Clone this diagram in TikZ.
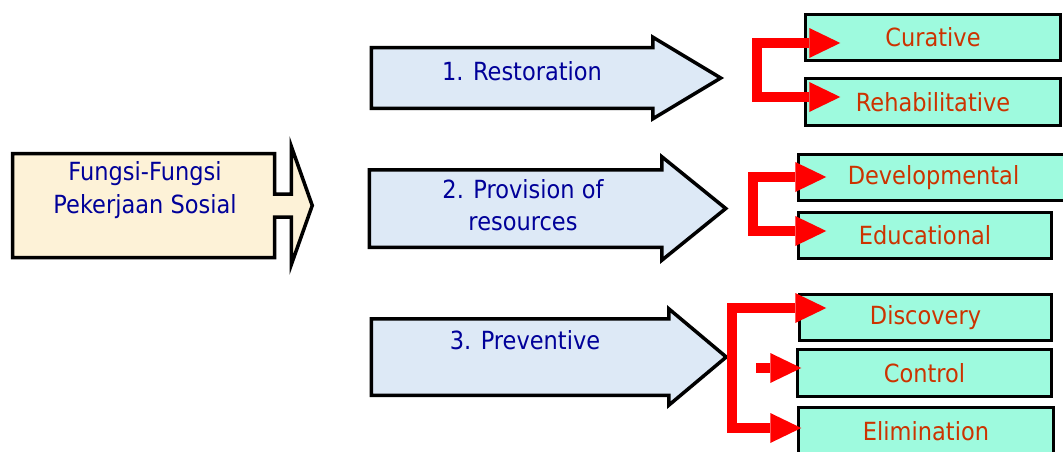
\documentclass[tikz,border=0pt]{standalone}
\usepackage{fontspec}
\setmainfont{DejaVu Sans}[FakeStretch=0.9]
\usepackage{xcolor}
\usetikzlibrary{shapes.arrows, arrows.meta, positioning}
\definecolor{cream}{RGB}{253,242,215}
\definecolor{iceblue}{RGB}{221,233,246}
\definecolor{mint}{RGB}{158,250,222}
\definecolor{navy}{RGB}{0,0,153}
\definecolor{rust}{RGB}{204,51,0}

\begin{document}
\begin{tikzpicture}[x=1pt, y=-1pt, font=\fontsize{25}{32.5}\selectfont,
    >={Triangle[length=31pt, width=30pt, line width=0pt]},
    mainbox/.style={arrow box, draw, line width=3.5pt, fill=cream,
        minimum width=262pt, minimum height=104pt, inner sep=0pt,
        arrow box arrows={east:36pt}, arrow box shaft width=23pt,
        arrow box head extend=47.5pt, arrow box tip angle=141},
    funcarrow/.style={single arrow, draw, line width=3.5pt, fill=iceblue,
        anchor=tail, inner xsep=0pt, single arrow head indent=0pt},
    functext/.style={text=navy, align=center},
    subbox/.style={draw, line width=3.5pt, fill=mint, text=rust,
        minimum width=255pt, minimum height=46pt},
    redlink/.style={draw=red, line width=10pt, line join=miter}]
    \useasboundingbox (0,0) rectangle (1063,452);
    \clip (0,0) rectangle (1063,452);

    % left box
    \node[mainbox] (fungsi) at (143.5,205.5) {};
    \node[functext] (fungsi-t) at (145,190) {Fungsi-Fungsi\\Pekerjaan Sosial};

    % the three functions
    \node[funcarrow, minimum height=349.5pt, inner ysep=28.5pt,
        single arrow head extend=10.5pt, single arrow tip angle=62] (restore) at (369.5,78) {};
    \node[funcarrow, minimum height=356.5pt, inner ysep=37pt,
        single arrow head extend=13pt, single arrow tip angle=78] (provide) at (367.5,208.5) {};
    \node[funcarrow, minimum height=355pt, inner ysep=36.5pt,
        single arrow head extend=10pt, single arrow tip angle=80] (prevent) at (369.5,357) {};
    \node[functext] (restore-t) at (522,71) {1. Restoration};
    \node[functext] (provide-t) at (523,205) {2. Provision of\\resources};
    \node[functext] (prevent-t) at (525,340) {3. Preventive};

    % sub functions
    \node[subbox] (curative) at (933,37.5) {Curative};
    \node[subbox, minimum height=47pt] (rehab) at (933,102) {Rehabilitative};
    \node[subbox, minimum width=270pt] (develop) at (933.5,177.5) {Developmental};
    \node[subbox, minimum width=253pt] (educate) at (925,235.5) {Educational};
    \node[subbox, minimum width=252pt] (discover) at (925.5,317.5) {Discovery};
    \node[subbox, minimum width=254pt, minimum height=47pt] (control) at (924.5,373) {Control};
    \node[subbox, minimum height=47pt] (elim) at (926,431) {Elimination};

    % red links
    \coordinate (j1) at (757,43);
    \coordinate (j2) at (753,177);
    \coordinate (j3) at (732,308);
    \coordinate (ctl) at (756,368);
    \draw[redlink, <->] ([shift={(36.5,5.5)}]curative.west) -- (j1) |- ([shift={(36.5,-5)}]rehab.west);
    \draw[redlink, <->] ([shift={(29.5,-0.5)}]develop.west) -- (j2) |- ([shift={(29.5,-4.5)}]educate.west);
    \draw[redlink, <->] ([shift={(28.5,-9.5)}]discover.west) -- (j3) |- ([shift={(4.5,-3)}]elim.west);
    \draw[redlink, ->] (ctl) -- ([shift={(5.5,-5)}]control.west);
\end{tikzpicture}
\end{document}
